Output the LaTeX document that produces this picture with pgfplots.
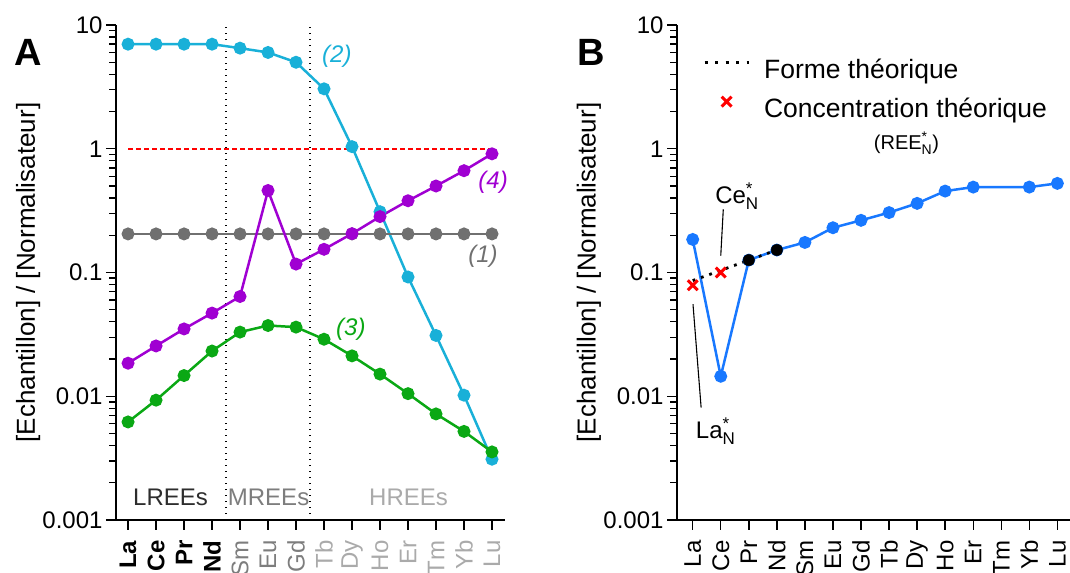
\documentclass[border=0pt]{standalone}
\usepackage{fontspec}
\setmainfont{Liberation Sans}
\usepackage{pgfplots}
\usepackage{pgfplotstable}
\pgfplotsset{compat=1.18}
\definecolor{ccyan}{RGB}{25,176,216}
\definecolor{cpurp}{RGB}{160,0,210}
\definecolor{cgreen}{RGB}{10,168,20}
\definecolor{cgray}{RGB}{112,112,112}
\definecolor{cblue}{RGB}{24,120,255}
\definecolor{gmid}{RGB}{125,125,125}
\definecolor{glight}{RGB}{170,170,170}
\definecolor{gdark}{RGB}{45,45,45}

% Panel A (La..Lu = 0..13)
\pgfplotstableread{
x   c2     c1     c3      c4
0   7.0    0.205  0.0062  0.0185
1   7.0    0.205  0.0093  0.0255
2   7.0    0.205  0.0147  0.035
3   7.0    0.205  0.0232  0.047
4   6.5    0.205  0.033   0.064
5   6.0    0.205  0.0373  0.46
6   5.0    0.205  0.0362  0.117
7   3.05   0.205  0.0289  0.154
8   1.04   0.205  0.0212  0.206
9   0.31   0.205  0.0151  0.283
10  0.092  0.205  0.0105  0.38
11  0.031  0.205  0.0072  0.50
12  0.0102 0.205  0.0052  0.665
13  0.0031 0.205  0.00355 0.91
}\panelA

% Panel B (Tm missing)
\pgfplotstableread{
x   y
0   0.185
1   0.0145
2   0.126
3   0.152
4   0.175
5   0.23
6   0.264
7   0.305
8   0.362
9   0.455
10  0.49
12  0.49
13  0.525
}\panelB

\begin{document}
\begin{tikzpicture}
\path[use as bounding box] (0,0) rectangle (1070bp,-573bp);

% ---------------- Panel A ----------------
\begin{axis}[at={(116bp,-520bp)}, anchor=south west, width=388.6bp,
  ymode=log, ymin=0.001, ymax=10, scale only axis, height=495bp,
  xmin=-0.43, xmax=13.45,
  axis x line*=bottom, axis y line*=left,
  axis line style={line width=1.6bp},
  xtick={0,...,13},
  ytick={0.001,0.01,0.1,1,10}, yticklabels={0.001,0.01,0.1,1,10},
  minor ytick={0.002,0.003,0.004,0.005,0.006,0.007,0.008,0.009,
               0.02,0.03,0.04,0.05,0.06,0.07,0.08,0.09,
               0.2,0.3,0.4,0.5,0.6,0.7,0.8,0.9,
               2,3,4,5,6,7,8,9},
  tick align=outside, major tick length=10bp, minor tick length=7bp,
  tick style={black, line width=1.4bp},
  yticklabel style={font=\fontsize{24bp}{28bp}\selectfont},
  xticklabel style={font=\fontsize{24bp}{28bp}\selectfont, rotate=90, anchor=east},
  xticklabel shift=7bp,
  ylabel={[Echantillon] / [Normalisateur]},
  ylabel style={font=\fontsize{26bp}{30bp}\selectfont, anchor=center, at={(axis description cs:-0.226,0.5)}},
  clip=false,
  xticklabels={\textbf{La},\textbf{Ce},\textbf{Pr},\textbf{Nd},
    \textcolor{gmid}{Sm},\textcolor{gmid}{Eu},\textcolor{gmid}{Gd},
    \textcolor{glight}{Tb},\textcolor{glight}{Dy},\textcolor{glight}{Ho},
    \textcolor{glight}{Er},\textcolor{glight}{Tm},\textcolor{glight}{Yb},\textcolor{glight}{Lu}}]
\addplot[black, line width=1.4bp, dash pattern=on 1.4bp off 4.6bp] coordinates {(3.5,0.001) (3.5,10)};
\addplot[black, line width=1.4bp, dash pattern=on 1.4bp off 4.6bp] coordinates {(6.5,0.001) (6.5,10)};
\addplot[red, line width=1.6bp, dash pattern=on 5bp off 3bp] coordinates {(0,1) (13,1)};
\addplot[ccyan, line width=2.5bp, mark=*, mark size=5.2bp] table[x=x, y=c2] {\panelA};
\addplot[cgray, line width=2.5bp, mark=*, mark size=5.2bp] table[x=x, y=c1] {\panelA};
\addplot[cgreen, line width=2.5bp, mark=*, mark size=5.2bp] table[x=x, y=c3] {\panelA};
\addplot[cpurp, line width=2.5bp, mark=*, mark size=5.2bp] table[x=x, y=c4] {\panelA};
\node[font=\itshape\fontsize{24bp}{28bp}\selectfont, text=ccyan] at (axis cs:7.46,5.62) {(2)};
\node[font=\itshape\fontsize{24bp}{28bp}\selectfont, text=cgray] at (axis cs:12.68,0.136) {(1)};
\node[font=\itshape\fontsize{24bp}{28bp}\selectfont, text=cgreen] at (axis cs:7.96,0.0348) {(3)};
\node[font=\itshape\fontsize{24bp}{28bp}\selectfont, text=cpurp] at (axis cs:13.04,0.537) {(4)};
\node[font=\fontsize{24bp}{28bp}\selectfont, text=gdark] at (axis cs:1.52,0.00152) {LREEs};
\node[font=\fontsize{24bp}{28bp}\selectfont, text=gmid] at (axis cs:5.02,0.00152) {MREEs};
\node[font=\fontsize{24bp}{28bp}\selectfont, text=glight] at (axis cs:10.02,0.00152) {HREEs};
\node[font=\bfseries\fontsize{38bp}{40bp}\selectfont] at (axis description cs:-0.226,0.945) {A};
\end{axis}

% ---------------- Panel B ----------------
\begin{axis}[at={(677bp,-520bp)}, anchor=south west, width=393bp,
  ymode=log, ymin=0.001, ymax=10, scale only axis, height=495bp,
  xmin=-0.56, xmax=13.45,
  axis x line*=bottom, axis y line*=left,
  axis line style={line width=1.6bp},
  xtick={0,...,13},
  ytick={0.001,0.01,0.1,1,10}, yticklabels={0.001,0.01,0.1,1,10},
  minor ytick={0.002,0.003,0.004,0.005,0.006,0.007,0.008,0.009,
               0.02,0.03,0.04,0.05,0.06,0.07,0.08,0.09,
               0.2,0.3,0.4,0.5,0.6,0.7,0.8,0.9,
               2,3,4,5,6,7,8,9},
  tick align=outside, major tick length=10bp, minor tick length=7bp,
  tick style={black, line width=1.4bp},
  yticklabel style={font=\fontsize{24bp}{28bp}\selectfont},
  xticklabel style={font=\fontsize{24bp}{28bp}\selectfont, rotate=90, anchor=east},
  xticklabel shift=7bp,
  ylabel={[Echantillon] / [Normalisateur]},
  ylabel style={font=\fontsize{26bp}{30bp}\selectfont, anchor=center, at={(axis description cs:-0.224,0.5)}},
  clip=false,
  xticklabels={La,Ce,Pr,Nd,Sm,Eu,Gd,Tb,Dy,Ho,Er,Tm,Yb,Lu},
  legend cell align=left,
  legend style={draw=none, fill=none, inner sep=0pt, outer sep=0pt,
    at={(axis cs:0.37,5.34)}, anchor=north west,
    font=\fontsize{26.5bp}{30bp}\selectfont,
    nodes={inner sep=0pt, text height=20bp, text depth=6bp},
    row sep=12bp,
    /tikz/every odd column/.append style={column sep=14bp}},
  ]
\addplot[cblue, line width=2.5bp, mark=*, mark size=5.2bp, forget plot] table[x=x, y=y] {\panelB};
\addplot[black, line width=1.1bp, forget plot] coordinates {(1.09,0.324) (1.0,0.137)};
\addplot[black, line width=1.1bp, forget plot] coordinates {(0.01,0.0554) (0.30,0.0081)};
\addplot[black, line width=2.8bp, dash pattern=on 2.8bp off 6bp,
  legend image code/.code={\draw[black, line width=3bp, dash pattern=on 3bp off 7.5bp] (0bp,9bp) -- (44bp,9bp);}]
  coordinates {(0,0.086) (1,0.104) (2,0.126) (3,0.152)};
\addlegendentry{Forme théorique}
\addplot[only marks, red, mark=x, mark size=7bp, line width=3bp,
  legend image code/.code={\draw[red, line width=3bp, mark=x, mark size=7bp] plot coordinates {(22bp,9bp)};}]
  coordinates {(0,0.079) (1,0.1)};
\addlegendentry{Concentration théorique}
\addplot[only marks, black, mark=*, mark size=5.7bp, forget plot] coordinates {(2,0.126) (3,0.152)};
\node[font=\fontsize{20bp}{24bp}\selectfont] at (axis cs:7.62,1.11) {(REE$^{\mbox{\fontsize{14bp}{16bp}\selectfont *}}_{\mbox{\fontsize{14bp}{16bp}\selectfont N}}$)};
\node[font=\fontsize{24bp}{28bp}\selectfont] at (axis cs:1.58,0.413) {Ce$^{\mbox{\fontsize{17bp}{20bp}\selectfont *}}_{\mbox{\fontsize{17bp}{20bp}\selectfont N}}$};
\node[font=\fontsize{24bp}{28bp}\selectfont] at (axis cs:0.82,0.00525) {La$^{\mbox{\fontsize{17bp}{20bp}\selectfont *}}_{\mbox{\fontsize{17bp}{20bp}\selectfont N}}$};
\node[font=\bfseries\fontsize{38bp}{40bp}\selectfont] at (axis description cs:-0.219,0.945) {B};
\end{axis}
\end{tikzpicture}
\end{document}
